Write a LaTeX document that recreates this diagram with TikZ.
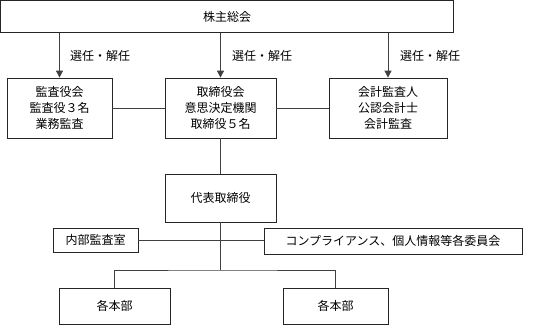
\documentclass[tikz,border=0pt]{standalone}
\usepackage{fontspec}
\newfontfamily\cjk{Noto Sans CJK JP}
\usetikzlibrary{arrows.meta}
\begin{document}
\begin{tikzpicture}[x=1pt,y=-1pt,
  box/.style={draw=black!85, line width=0.8pt, inner sep=0pt, align=center,
    font=\cjk\fontsize{12}{16}\selectfont},
  conn/.style={draw=black!75, line width=0.8pt},
  arr/.style={conn, -{Triangle[length=7pt,width=7pt]}},
  lbl/.style={anchor=west, inner sep=0pt, font=\cjk\fontsize{12}{16}\selectfont}]
\useasboundingbox (0,0) rectangle (556,325);
\node[box, minimum width=453pt, minimum height=32pt] (top) at (227,16.5) {株主総会};
\node[box, minimum width=105pt, minimum height=60pt] (kansa) at (59.5,108) {監査役会\\監査役３名\\業務監査};
\node[box, minimum width=111pt, minimum height=60pt] (tori) at (220.5,108) {取締役会\\意思決定機関\\取締役５名};
\node[box, minimum width=118pt, minimum height=60pt] (kaikei) at (388,108) {会計監査人\\公認会計士\\会計監査};
\node[box, minimum width=111pt, minimum height=48pt] (daihyo) at (220.5,198) {代表取締役};
\node[box, minimum width=85pt, minimum height=24pt] (naibu) at (95.5,240) {内部監査室};
\node[box, minimum width=258pt, minimum height=26pt] (comp) at (393,241) {コンプライアンス、個人情報等各委員会};
\node[box, minimum width=111pt, minimum height=36pt] (hon1) at (114.5,306) {各本部};
\node[box, minimum width=105pt, minimum height=36pt] (hon2) at (335.5,306) {各本部};
\coordinate (j) at (220.5,270);
\draw[arr] (top.south -| kansa.north) -- (kansa.north);
\draw[arr] (top.south -| tori.north) -- (tori.north);
\draw[arr] (top.south -| kaikei.north) -- (kaikei.north);
\node[lbl] (l1) at (70,56) {選任・解任};
\node[lbl] (l2) at (232,56) {選任・解任};
\node[lbl] (l3) at (400,56) {選任・解任};
\draw[conn] (kansa.east) -- (tori.west);
\draw[conn] (tori.east) -- (kaikei.west);
\draw[conn] (tori.south) -- (daihyo.north);
\draw[conn] (daihyo.south) -- (j);
\draw[conn] (naibu.east) -- (naibu.east -| comp.west);
\draw[conn] (hon1.north) |- (j) -| (hon2.north);
\end{tikzpicture}
\end{document}
